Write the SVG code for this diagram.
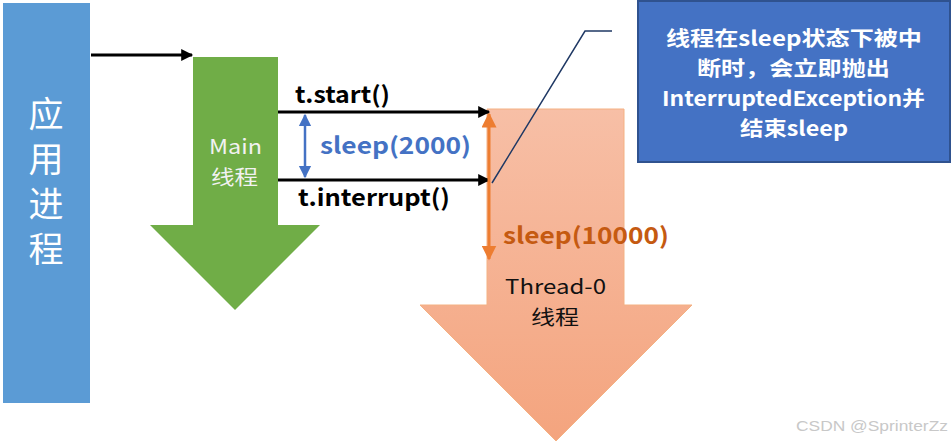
<svg xmlns="http://www.w3.org/2000/svg" width="952" height="443" viewBox="0 0 952 443">
<defs>
<linearGradient id="og" x1="0" y1="0" x2="0" y2="1">
<stop offset="0" stop-color="#F7BFA6"/>
<stop offset="1" stop-color="#F4A47E"/>
</linearGradient>
<marker id="ab" viewBox="0 0 10 10" refX="9" refY="5" markerWidth="4.4" markerHeight="4" orient="auto"><path d="M0,0 L10,5 L0,10 Z" fill="#000"/></marker>
<marker id="abl" viewBox="0 0 10 10" refX="9" refY="5" markerWidth="5" markerHeight="5.5" orient="auto-start-reverse"><path d="M0,0 L10,5 L0,10 Z" fill="#4472C4"/></marker>
<marker id="aor" viewBox="0 0 10 10" refX="9" refY="5" markerWidth="5" markerHeight="5" orient="auto-start-reverse"><path d="M0,0 L10,5 L0,10 Z" fill="#ED7D31"/></marker>
<style>
.cjk{font-family:"Noto Sans CJK SC","Liberation Sans",sans-serif}
.lbl{font-family:"Noto Sans CJK SC","Liberation Sans",sans-serif;font-weight:bold;font-size:23px}
.note{font-family:"Noto Sans CJK SC","Liberation Sans",sans-serif;font-weight:bold;font-size:20.5px;fill:#fff}
.ln{stroke:#000;stroke-width:3;fill:none}
</style>
</defs>
<g id="process">
<rect x="3" y="3" width="87" height="400" fill="#5B9BD5"/>
<text class="cjk" x="46" y="96" font-size="35" fill="#fff" writing-mode="tb" letter-spacing="10">应用进程</text>
</g>
<g id="main">
<path d="M193,57 H278 V225 H320 L235,310 L150,225 H193 Z" fill="#70AD47"/>
<text class="cjk" font-size="20.5" fill="#F2F2F2"><tspan x="209" y="154" textLength="53" lengthAdjust="spacingAndGlyphs">Main</tspan><tspan x="211" y="185" textLength="47" lengthAdjust="spacingAndGlyphs">线程</tspan></text>
</g>
<g id="thread0">
<path d="M487,109 H624 V305 H692 L556,441 L420,305 H487 Z" fill="url(#og)" stroke="#F4B183" stroke-width="1"/>
<text class="cjk" font-size="20.5" fill="#111"><tspan x="505" y="294" textLength="101" lengthAdjust="spacingAndGlyphs">Thread-0</tspan><tspan x="531" y="325" textLength="48" lengthAdjust="spacingAndGlyphs">线程</tspan></text>
</g>
<g id="callout">
<rect x="638" y="1" width="312" height="161" fill="#4472C4" stroke="#2F528F" stroke-width="2"/>
<text class="note"><tspan x="666" y="46" textLength="256" lengthAdjust="spacingAndGlyphs">线程在sleep状态下被中</tspan><tspan x="697" y="76" textLength="193" lengthAdjust="spacingAndGlyphs">断时，会立即抛出</tspan><tspan x="662" y="106" textLength="263" lengthAdjust="spacingAndGlyphs">InterruptedException并</tspan><tspan x="740" y="136" textLength="108" lengthAdjust="spacingAndGlyphs">结束sleep</tspan></text>
</g>
<g id="connectors">
<line x1="91" y1="55" x2="192" y2="55" class="ln" marker-end="url(#ab)"/>
<line x1="278" y1="112" x2="489" y2="112" class="ln" marker-end="url(#ab)"/>
<line x1="278" y1="180" x2="489" y2="180" class="ln" marker-end="url(#ab)"/>
<line x1="305" y1="115" x2="305" y2="177" stroke="#4472C4" stroke-width="2.5" marker-start="url(#abl)" marker-end="url(#abl)"/>
<line x1="489" y1="114" x2="489" y2="259" stroke="#ED7D31" stroke-width="3" marker-start="url(#aor)" marker-end="url(#aor)"/>
<polyline points="492,183 585,31 612,31" fill="none" stroke="#1F3864" stroke-width="1.5"/>
</g>
<g id="labels">
<text class="lbl" x="295" y="103" fill="#000" textLength="95" lengthAdjust="spacingAndGlyphs">t.start()</text>
<text class="lbl" x="298" y="206" fill="#000" textLength="152" lengthAdjust="spacingAndGlyphs">t.interrupt()</text>
<text class="lbl" x="320" y="154" fill="#4472C4" textLength="151" lengthAdjust="spacingAndGlyphs">sleep(2000)</text>
<text class="lbl" x="503" y="244" fill="#C55A11" textLength="166" lengthAdjust="spacingAndGlyphs">sleep(10000)</text>
<text x="796" y="431" font-family="Liberation Sans, sans-serif" font-size="15" fill="#C8C8C8" textLength="152" lengthAdjust="spacingAndGlyphs">CSDN @SprinterZz</text>
</g>
</svg>
